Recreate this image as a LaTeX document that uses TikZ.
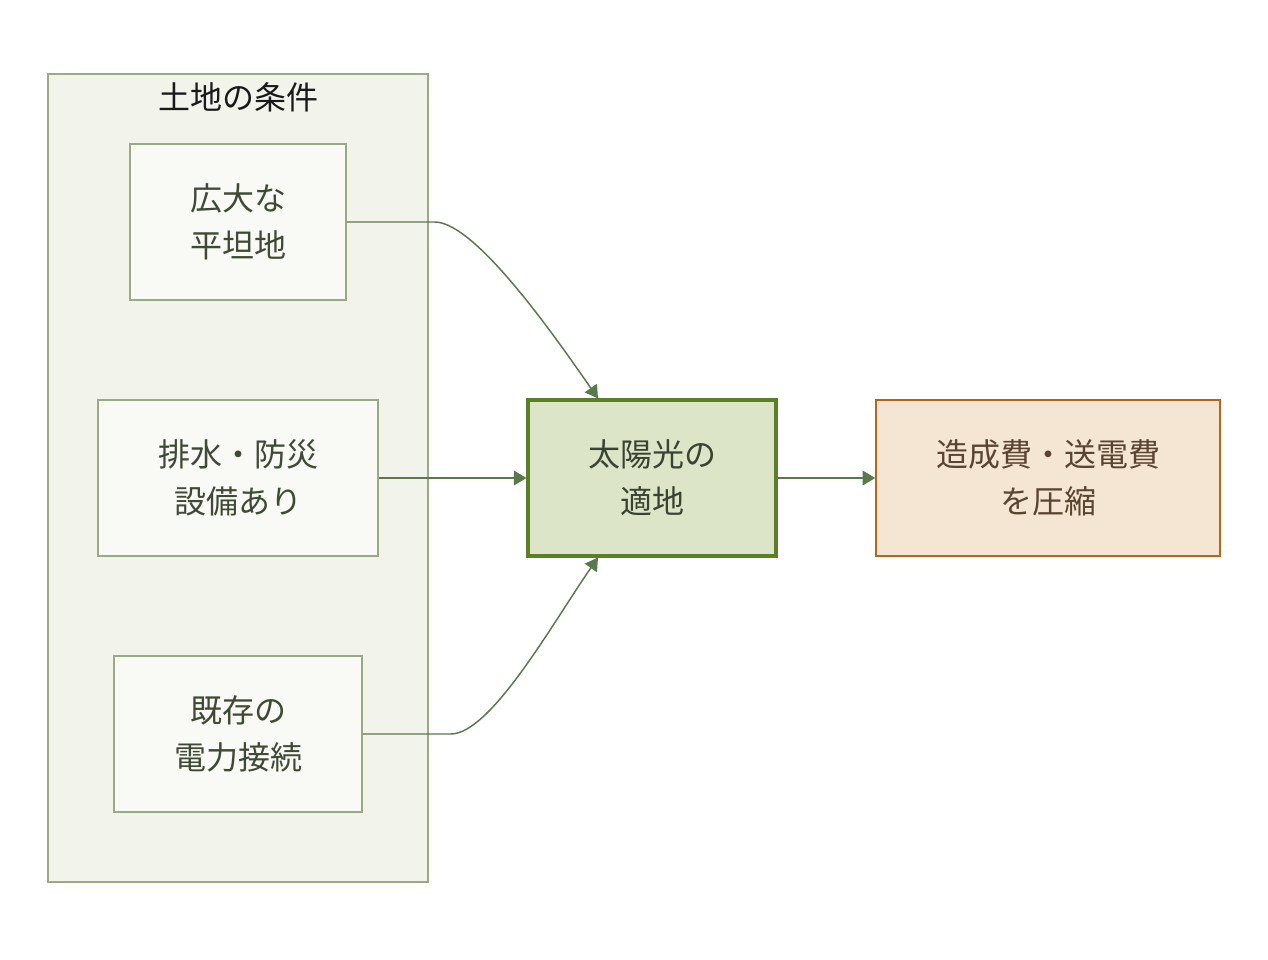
\documentclass[tikz,border=0pt]{standalone}
\usepackage{fontspec}
\setmainfont{Noto Sans CJK JP}
\usetikzlibrary{arrows.meta,calc}
\definecolor{grpfill}{HTML}{F2F4EC}
\definecolor{grpline}{HTML}{98AB85}
\definecolor{boxfill}{HTML}{F9FAF5}
\definecolor{boxtext}{HTML}{3F4A36}
\definecolor{cfill}{HTML}{DCE5C8}
\definecolor{cline}{HTML}{5A7F26}
\definecolor{rfill}{HTML}{F5E6D4}
\definecolor{rline}{HTML}{B5651D}
\definecolor{rtext}{HTML}{5A4530}
\definecolor{arr}{HTML}{587A4A}
\tikzset{
  lbl/.style={font=\fontsize{24pt}{35.25pt}\selectfont, align=center, inner sep=0pt},
  condbox/.style={lbl, draw=grpline, line width=1.1pt, fill=boxfill, text=boxtext, minimum height=156*0.75pt},
  conn/.style={draw=arr, line width=1.1pt, -{Triangle[length=9.5pt,width=11pt]}},
}
\begin{document}
\begin{tikzpicture}[x=0.75pt,y=-0.75pt]
\useasboundingbox[fill=white] (0,0) rectangle (1268,960);
\node[draw=grpline, line width=1.1pt, fill=grpfill, minimum width=380*0.75pt, minimum height=808*0.75pt, inner sep=0pt] (grp) at (238,478) {};
\node[lbl, text=black!90] (title) at (238,97) {土地の条件};
\node[condbox, minimum width=216*0.75pt] (b1) at (238,222) {広大な\\平坦地};
\node[condbox, minimum width=280*0.75pt] (b2) at (238,478) {排水・防災\\設備あり};
\node[condbox, minimum width=248*0.75pt] (b3) at (238,734) {既存の\\電力接続};
\node[lbl, draw=cline, line width=2.3pt, fill=cfill, text=boxtext!90!black, minimum width=248*0.75pt, minimum height=156*0.75pt] (c) at (652,478) {太陽光の\\適地};
\node[lbl, draw=rline, line width=1.1pt, fill=rfill, text=rtext, minimum width=344*0.75pt, minimum height=156*0.75pt] (r) at (1048,478) {造成費・送電費\\を圧縮};
\coordinate (cin1) at ($(c.north)+(-54,0)$);
\coordinate (cin3) at ($(c.south)+(-54,0)$);
\draw[conn] (b1.east) -- ++(88,0) .. controls +(40,0) and +(-45,-65) .. (cin1);
\draw[conn] (b2.east) -- (c.west);
\draw[conn] (b3.east) -- ++(88,0) .. controls +(40,0) and +(-45,65) .. (cin3);
\draw[conn] (c.east) -- (r.west);
\end{tikzpicture}
\end{document}
